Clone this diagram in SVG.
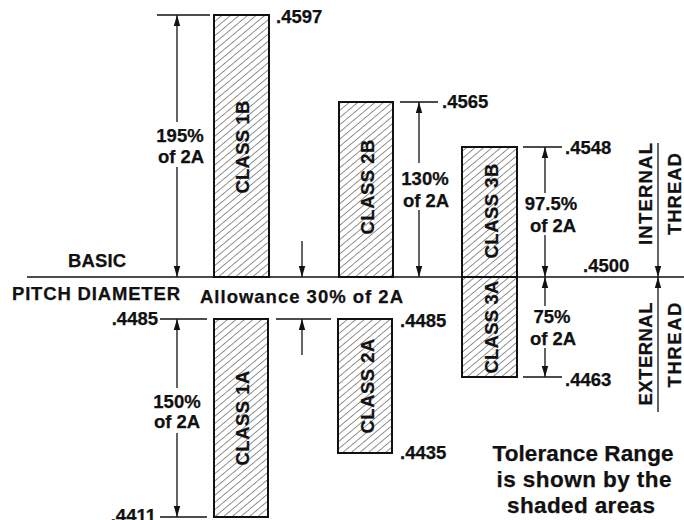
<svg xmlns="http://www.w3.org/2000/svg" width="684" height="520" viewBox="0 0 684 520">
<defs>
<pattern id="hatch" patternUnits="userSpaceOnUse" width="5.5" height="5.5" patternTransform="rotate(50)">
<rect width="5.5" height="5.5" fill="#fff"/>
<line x1="0" y1="0" x2="0" y2="5.5" stroke="#222" stroke-width="1"/>
</pattern>
<marker id="ah" markerUnits="userSpaceOnUse" markerWidth="12" markerHeight="8" refX="11" refY="4" orient="auto">
<path d="M0,0.8 L11,4 L0,7.2 Z" fill="#111"/>
</marker>
<style>
.t{font-family:"Liberation Sans",Arial,Helvetica,sans-serif;font-weight:bold;font-size:18.5px;fill:#111;stroke:#111;stroke-width:0.25}
.m{text-anchor:middle}
.e{text-anchor:end}
.big{font-size:22.5px}
.dim{stroke:#111;stroke-width:1.3;fill:none}
.arr{stroke:#111;stroke-width:1.3;fill:none;marker-end:url(#ah)}
.box{fill:url(#hatch);stroke:#111;stroke-width:2}
.base{stroke:#111;stroke-width:1.6}
</style>
</defs>
<rect width="684" height="520" fill="#fff"/>

<g id="connectors">
<line class="base" x1="27" y1="277" x2="684" y2="277"/>
<line class="dim" x1="157" y1="15" x2="210" y2="15"/>
<line class="arr" x1="177" y1="122" x2="177" y2="15"/>
<line class="arr" x1="177" y1="167" x2="177" y2="277"/>
<line class="dim" x1="160" y1="319" x2="207" y2="319"/>
<line class="dim" x1="160" y1="517" x2="207" y2="517"/>
<line class="arr" x1="177" y1="388" x2="177" y2="319"/>
<line class="arr" x1="177" y1="433" x2="177" y2="517"/>
<line class="dim" x1="276" y1="319" x2="331" y2="319"/>
<line class="arr" x1="302" y1="241" x2="302" y2="277"/>
<line class="arr" x1="302" y1="355" x2="302" y2="319"/>
<line class="dim" x1="400" y1="102" x2="438" y2="102"/>
<line class="arr" x1="419" y1="163" x2="419" y2="102"/>
<line class="arr" x1="419" y1="210" x2="419" y2="277"/>
<line class="dim" x1="523" y1="147" x2="562" y2="147"/>
<line class="arr" x1="545" y1="193" x2="545" y2="147"/>
<line class="arr" x1="545" y1="235" x2="545" y2="277"/>
<line class="dim" x1="523" y1="377" x2="562" y2="377"/>
<line class="arr" x1="545" y1="306" x2="545" y2="277"/>
<line class="arr" x1="545" y1="348" x2="545" y2="377"/>
<line class="arr" x1="658" y1="143" x2="658" y2="277"/>
<line class="arr" x1="658" y1="412" x2="658" y2="277"/>
</g>

<g id="class1B">
<rect class="box" x="214" y="15" width="55" height="262"/>
<text class="t m" transform="translate(248.5,147) rotate(-90)" textLength="93">CLASS 1B</text>
</g>
<g id="class1A">
<rect class="box" x="214" y="319" width="54" height="198"/>
<text class="t m" transform="translate(248.5,418) rotate(-90)" textLength="95">CLASS 1A</text>
</g>
<g id="class2B">
<rect class="box" x="339" y="102" width="54" height="175"/>
<text class="t m" transform="translate(373.5,187) rotate(-90)" textLength="95">CLASS 2B</text>
</g>
<g id="class2A">
<rect class="box" x="338" y="319" width="54" height="134"/>
<text class="t m" transform="translate(373.5,386) rotate(-90)" textLength="95">CLASS 2A</text>
</g>
<g id="class3B">
<rect class="box" x="462" y="147" width="55" height="130"/>
<text class="t m" transform="translate(497.5,211) rotate(-90)" textLength="95">CLASS 3B</text>
</g>
<g id="class3A">
<rect class="box" x="462" y="277" width="55" height="100"/>
<text class="t m" transform="translate(497.5,327) rotate(-90)" textLength="93">CLASS 3A</text>
</g>

<g id="values">
<text class="t" x="276" y="23">.4597</text>
<text class="t" x="442" y="108">.4565</text>
<text class="t" x="565" y="154">.4548</text>
<text class="t" x="583" y="272">.4500</text>
<text class="t" x="565" y="386">.4463</text>
<text class="t" x="400" y="327">.4485</text>
<text class="t" x="400" y="459">.4435</text>
<text class="t e" x="158" y="325">.4485</text>
<text class="t e" x="156" y="522">.4411</text>
</g>

<g id="percentages">
<text class="t m" x="180" y="142">195%</text>
<text class="t m" x="181" y="163">of 2A</text>
<text class="t m" x="177" y="408">150%</text>
<text class="t m" x="177" y="428">of 2A</text>
<text class="t m" x="425" y="185">130%</text>
<text class="t m" x="426" y="207">of 2A</text>
<text class="t m" x="551" y="210">97.5%</text>
<text class="t m" x="553" y="232">of 2A</text>
<text class="t m" x="552" y="323">75%</text>
<text class="t m" x="553" y="345">of 2A</text>
</g>

<g id="basic-label">
<text class="t" x="68" y="267" textLength="58">BASIC</text>
<text class="t" x="12" y="300" textLength="168">PITCH DIAMETER</text>
<text class="t" x="200" y="303" textLength="203">Allowance 30% of 2A</text>
</g>

<g id="internal-thread">
<text class="t m" transform="translate(652,194) rotate(-90)" textLength="102">INTERNAL</text>
<text class="t m" transform="translate(681,194) rotate(-90)" textLength="82">THREAD</text>
</g>
<g id="external-thread">
<text class="t m" transform="translate(652,354) rotate(-90)" textLength="103">EXTERNAL</text>
<text class="t m" transform="translate(681,345) rotate(-90)" textLength="85">THREAD</text>
</g>

<g id="note">
<text class="t big m" x="583" y="461" textLength="181">Tolerance Range</text>
<text class="t big m" x="584" y="487" textLength="175">is shown by the</text>
<text class="t big m" x="581" y="513" textLength="148">shaded areas</text>
</g>
</svg>
